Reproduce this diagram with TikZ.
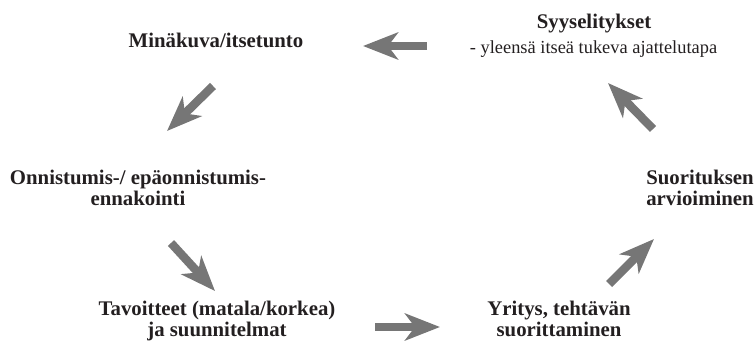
\documentclass[tikz,border=0pt]{standalone}
\usepackage{fontspec}
\setmainfont{Liberation Serif}
\usetikzlibrary{arrows.meta}
\definecolor{arrowgray}{RGB}{118,118,118}
\definecolor{inkblack}{RGB}{35,31,32}
\begin{document}
\begin{tikzpicture}[x=1bp,y=-1bp,
  lbl/.style={text=inkblack, font=\fontsize{20.8bp}{20.5bp}\selectfont\bfseries, align=center, inner sep=0pt, anchor=base},
  sub/.style={text=inkblack, font=\fontsize{18.4bp}{20bp}\selectfont, inner sep=0pt, anchor=base},
  blockarrow/.style={draw=arrowgray, line width=8.5bp, -{Stealth[length=35bp,width=27bp,inset=10bp]}}]
\useasboundingbox (0,0) rectangle (756,350);
\node[lbl] (mina) at (216,47) {Minäkuva/itsetunto};
\node[lbl] (syy) at (594,28) {Syyselitykset};
\node[sub] (syysub) at (593.5,53) {- yleensä itseä tukeva ajattelutapa};
\node[lbl] (onni) at (138,205) {Onnistumis-/ epäonnistumis-\\ennakointi};
\node[lbl] (suor) at (700,205) {Suorituksen\\arvioiminen};
\node[lbl] (tavo) at (217,336) {Tavoitteet (matala/korkea)\\ja suunnitelmat};
\node[lbl] (yrit) at (559,336) {Yritys, tehtävän\\suorittaminen};
\coordinate (a1s) at (427,46);  \coordinate (a1e) at (363,46);
\coordinate (a2s) at (213,86);  \coordinate (a2e) at (167,131);
\coordinate (a3s) at (171,243); \coordinate (a3e) at (215,291);
\coordinate (a4s) at (375,327); \coordinate (a4e) at (440,327);
\coordinate (a5s) at (609,284); \coordinate (a5e) at (654,239);
\coordinate (a6s) at (653,129); \coordinate (a6e) at (608,83);
\draw[blockarrow] (a1s) -- (a1e);
\draw[blockarrow] (a2s) -- (a2e);
\draw[blockarrow] (a3s) -- (a3e);
\draw[blockarrow] (a4s) -- (a4e);
\draw[blockarrow] (a5s) -- (a5e);
\draw[blockarrow] (a6s) -- (a6e);
\end{tikzpicture}
\end{document}
